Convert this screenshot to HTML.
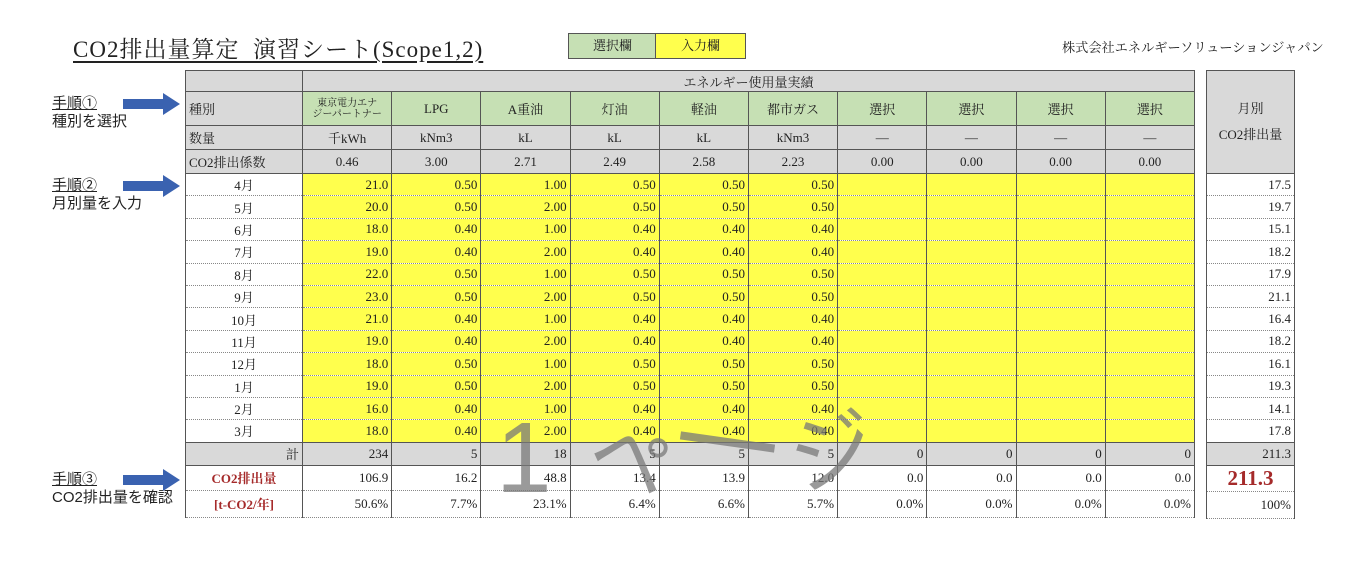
<!DOCTYPE html>
<html><head><meta charset="utf-8">
<style>
body{margin:0;width:1366px;height:580px;background:#fff;position:relative;overflow:hidden;font-family:"Liberation Serif","Noto Serif CJK SC","Noto Sans CJK JP",serif;color:#222}
.a{position:absolute}
table{border-collapse:collapse;table-layout:fixed;position:absolute;font-size:13px}
td{border:1px solid #555;padding:0 3px;white-space:nowrap;overflow:hidden}
.g{background:#d9d9d9}
.gr{background:#c6e0b4;text-align:center}
.y{background:#ffff4d;text-align:right}
.c{text-align:center}
.r{text-align:right}
tr.m td{border-top:1px dotted #888;border-bottom:1px dotted #888}
.red{color:#a52a2a;font-weight:bold;text-align:center}
.note{font-family:"Liberation Sans","Noto Sans CJK JP",sans-serif;font-size:15px;line-height:18px}
.arrow{position:absolute;width:40px;height:10px;background:#3a62b0}
.arrow:after{content:"";position:absolute;left:40px;top:-6px;border-left:17px solid #3a62b0;border-top:11px solid transparent;border-bottom:11px solid transparent}
.wm{position:absolute;color:rgba(120,120,120,0.75);font-family:"Liberation Sans","Noto Sans CJK JP",sans-serif}
</style></head><body>
<div class="a" style="left:73px;top:31px;font-size:23px;letter-spacing:1px;text-decoration:underline;text-underline-offset:4px">CO2排出量算定&nbsp;&nbsp;演習シート(Scope1,2)</div>
<div class="a" style="left:568px;top:33px;width:87px;height:24px;background:#c6e0b4;border:1px solid #555;font-size:13px;text-align:center;line-height:24px">選択欄</div>
<div class="a" style="left:655px;top:33px;width:89px;height:24px;background:#ffff4d;border:1px solid #555;font-size:13px;text-align:center;line-height:24px">入力欄</div>
<div class="a" style="left:1062px;top:37px;font-size:13.2px">株式会社エネルギーソリューションジャパン</div>

<div class="a note" style="left:52px;top:95px"><u>手順①</u><br>種別を選択</div>
<div class="arrow" style="left:123px;top:99px"></div>
<div class="a note" style="left:52px;top:177px"><u>手順②</u><br>月別量を入力</div>
<div class="arrow" style="left:123px;top:181px"></div>
<div class="a note" style="left:52px;top:471px"><u>手順③</u><br>CO2排出量を確認</div>
<div class="arrow" style="left:123px;top:475px"></div>

<table style="left:185px;top:70px;width:1009px">
<colgroup><col style="width:117px"><col span="10" style="width:89.2px"></colgroup>
<tr style="height:21px"><td class="g"></td><td class="g c" colspan="10">エネルギー使用量実績</td></tr>
<tr style="height:34px"><td class="g">種別</td><td class="gr" style="font-size:10px;line-height:11px">東京電力エナ<br>ジーパートナー</td><td class="gr">LPG</td><td class="gr">A重油</td><td class="gr">灯油</td><td class="gr">軽油</td><td class="gr">都市ガス</td><td class="gr">選択</td><td class="gr">選択</td><td class="gr">選択</td><td class="gr">選択</td></tr>
<tr style="height:24px"><td class="g">数量</td><td class="g c">千kWh</td><td class="g c">kNm3</td><td class="g c">kL</td><td class="g c">kL</td><td class="g c">kL</td><td class="g c">kNm3</td><td class="g c">—</td><td class="g c">—</td><td class="g c">—</td><td class="g c">—</td></tr>
<tr style="height:24px"><td class="g">CO2排出係数</td><td class="g c">0.46</td><td class="g c">3.00</td><td class="g c">2.71</td><td class="g c">2.49</td><td class="g c">2.58</td><td class="g c">2.23</td><td class="g c">0.00</td><td class="g c">0.00</td><td class="g c">0.00</td><td class="g c">0.00</td></tr>
<tr class="m" style="height:22.4px"><td class="c">4月</td><td class="y">21.0</td><td class="y">0.50</td><td class="y">1.00</td><td class="y">0.50</td><td class="y">0.50</td><td class="y">0.50</td><td class="y"></td><td class="y"></td><td class="y"></td><td class="y"></td></tr>
<tr class="m" style="height:22.4px"><td class="c">5月</td><td class="y">20.0</td><td class="y">0.50</td><td class="y">2.00</td><td class="y">0.50</td><td class="y">0.50</td><td class="y">0.50</td><td class="y"></td><td class="y"></td><td class="y"></td><td class="y"></td></tr>
<tr class="m" style="height:22.4px"><td class="c">6月</td><td class="y">18.0</td><td class="y">0.40</td><td class="y">1.00</td><td class="y">0.40</td><td class="y">0.40</td><td class="y">0.40</td><td class="y"></td><td class="y"></td><td class="y"></td><td class="y"></td></tr>
<tr class="m" style="height:22.4px"><td class="c">7月</td><td class="y">19.0</td><td class="y">0.40</td><td class="y">2.00</td><td class="y">0.40</td><td class="y">0.40</td><td class="y">0.40</td><td class="y"></td><td class="y"></td><td class="y"></td><td class="y"></td></tr>
<tr class="m" style="height:22.4px"><td class="c">8月</td><td class="y">22.0</td><td class="y">0.50</td><td class="y">1.00</td><td class="y">0.50</td><td class="y">0.50</td><td class="y">0.50</td><td class="y"></td><td class="y"></td><td class="y"></td><td class="y"></td></tr>
<tr class="m" style="height:22.4px"><td class="c">9月</td><td class="y">23.0</td><td class="y">0.50</td><td class="y">2.00</td><td class="y">0.50</td><td class="y">0.50</td><td class="y">0.50</td><td class="y"></td><td class="y"></td><td class="y"></td><td class="y"></td></tr>
<tr class="m" style="height:22.4px"><td class="c">10月</td><td class="y">21.0</td><td class="y">0.40</td><td class="y">1.00</td><td class="y">0.40</td><td class="y">0.40</td><td class="y">0.40</td><td class="y"></td><td class="y"></td><td class="y"></td><td class="y"></td></tr>
<tr class="m" style="height:22.4px"><td class="c">11月</td><td class="y">19.0</td><td class="y">0.40</td><td class="y">2.00</td><td class="y">0.40</td><td class="y">0.40</td><td class="y">0.40</td><td class="y"></td><td class="y"></td><td class="y"></td><td class="y"></td></tr>
<tr class="m" style="height:22.4px"><td class="c">12月</td><td class="y">18.0</td><td class="y">0.50</td><td class="y">1.00</td><td class="y">0.50</td><td class="y">0.50</td><td class="y">0.50</td><td class="y"></td><td class="y"></td><td class="y"></td><td class="y"></td></tr>
<tr class="m" style="height:22.4px"><td class="c">1月</td><td class="y">19.0</td><td class="y">0.50</td><td class="y">2.00</td><td class="y">0.50</td><td class="y">0.50</td><td class="y">0.50</td><td class="y"></td><td class="y"></td><td class="y"></td><td class="y"></td></tr>
<tr class="m" style="height:22.4px"><td class="c">2月</td><td class="y">16.0</td><td class="y">0.40</td><td class="y">1.00</td><td class="y">0.40</td><td class="y">0.40</td><td class="y">0.40</td><td class="y"></td><td class="y"></td><td class="y"></td><td class="y"></td></tr>
<tr class="m" style="height:22.4px"><td class="c">3月</td><td class="y">18.0</td><td class="y">0.40</td><td class="y">2.00</td><td class="y">0.40</td><td class="y">0.40</td><td class="y">0.40</td><td class="y"></td><td class="y"></td><td class="y"></td><td class="y"></td></tr>
<tr style="height:23px"><td class="g r">計</td><td class="g r">234</td><td class="g r">5</td><td class="g r">18</td><td class="g r">5</td><td class="g r">5</td><td class="g r">5</td><td class="g r">0</td><td class="g r">0</td><td class="g r">0</td><td class="g r">0</td></tr>
<tr class="m" style="height:25px"><td class="red">CO2排出量</td><td class="r">106.9</td><td class="r">16.2</td><td class="r">48.8</td><td class="r">13.4</td><td class="r">13.9</td><td class="r">12.0</td><td class="r">0.0</td><td class="r">0.0</td><td class="r">0.0</td><td class="r">0.0</td></tr>
<tr class="m" style="height:27px"><td class="red">[t-CO2/年]</td><td class="r">50.6%</td><td class="r">7.7%</td><td class="r">23.1%</td><td class="r">6.4%</td><td class="r">6.6%</td><td class="r">5.7%</td><td class="r">0.0%</td><td class="r">0.0%</td><td class="r">0.0%</td><td class="r">0.0%</td></tr>
</table>

<table style="left:1206px;top:70px;width:89px">
<tr style="height:103px"><td class="g c" style="line-height:26px">月別<br>CO2排出量</td></tr>
<tr class="m" style="height:22.4px"><td class="r">17.5</td></tr>
<tr class="m" style="height:22.4px"><td class="r">19.7</td></tr>
<tr class="m" style="height:22.4px"><td class="r">15.1</td></tr>
<tr class="m" style="height:22.4px"><td class="r">18.2</td></tr>
<tr class="m" style="height:22.4px"><td class="r">17.9</td></tr>
<tr class="m" style="height:22.4px"><td class="r">21.1</td></tr>
<tr class="m" style="height:22.4px"><td class="r">16.4</td></tr>
<tr class="m" style="height:22.4px"><td class="r">18.2</td></tr>
<tr class="m" style="height:22.4px"><td class="r">16.1</td></tr>
<tr class="m" style="height:22.4px"><td class="r">19.3</td></tr>
<tr class="m" style="height:22.4px"><td class="r">14.1</td></tr>
<tr class="m" style="height:22.4px"><td class="r">17.8</td></tr>
<tr style="height:23px"><td class="g r">211.3</td></tr>
<tr class="m" style="height:25px"><td class="c" style="color:#a52a2a;font-weight:bold;font-size:21px">211.3</td></tr>
<tr class="m" style="height:27px"><td class="r">100%</td></tr>
</table>

<div class="wm" style="left:496px;top:408px;font-size:100px;line-height:100px;font-weight:300">1</div>
<div class="wm" style="left:590px;top:420px;font-size:80px;line-height:80px;transform:rotate(20deg)">ペ</div>
<div class="wm" style="left:680px;top:438px;width:95px;height:8px;background:rgba(120,120,120,0.75);transform:rotate(8deg)"></div>
<div class="wm" style="left:790px;top:410px;font-size:85px;line-height:85px;transform:rotate(-15deg)">ジ</div>
</body></html>
